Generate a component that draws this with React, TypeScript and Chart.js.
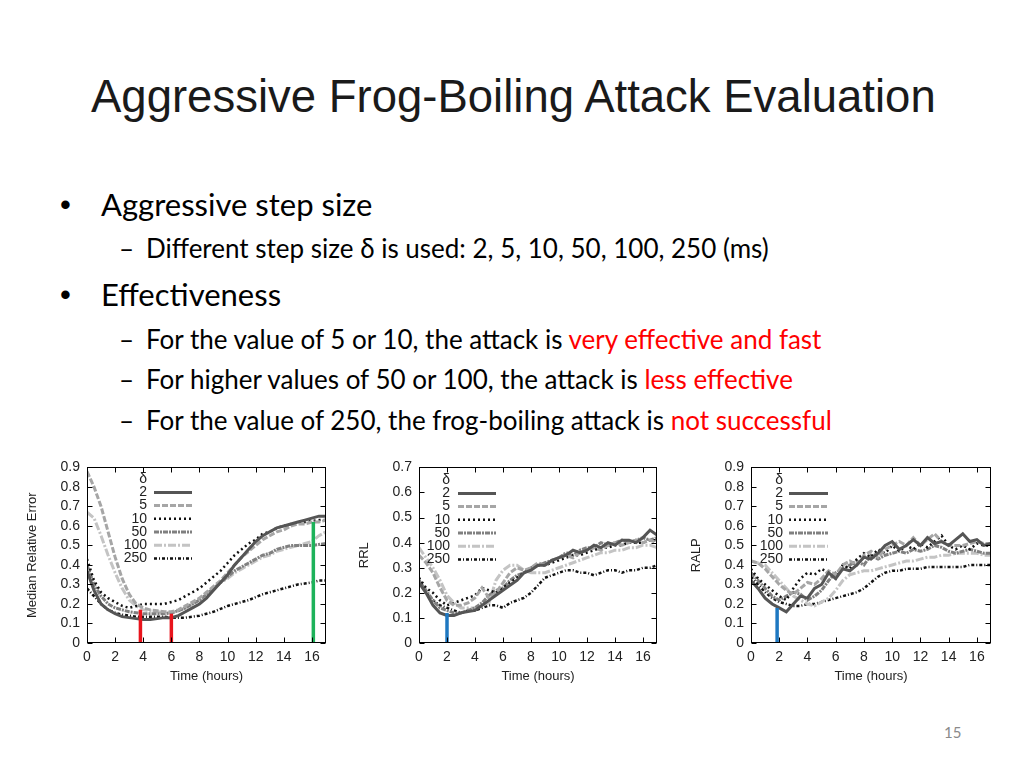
import React, { useEffect, useRef } from "react";
import { Chart, registerables } from "chart.js";

Chart.register(...registerables);

// ---------- data ----------
const hours = [0, 0.5, 1, 1.5, 2, 2.5, 3, 3.5, 4, 4.5, 5, 5.5, 6, 6.5, 7, 7.5, 8, 8.5, 9, 9.5, 10, 10.5, 11, 11.5, 12, 12.5, 13, 13.5, 14, 14.5, 15, 15.5, 16, 16.5, 17];
const stepLabels = ["2", "5", "10", "50", "100", "250"];
const xTickValues = [0, 2, 4, 6, 8, 10, 12, 14, 16];
const mreTicks = [0, 0.1, 0.2, 0.3, 0.4, 0.5, 0.6, 0.7, 0.8, 0.9];
const rrlTicks = [0, 0.1, 0.2, 0.3, 0.4, 0.5, 0.6, 0.7];
const ralpTicks = [0, 0.1, 0.2, 0.3, 0.4, 0.5, 0.6, 0.7, 0.8, 0.9];

// Median Relative Error
const mre2 = [0.37, 0.27, 0.2, 0.17, 0.15, 0.135, 0.13, 0.125, 0.12, 0.12, 0.125, 0.13, 0.13, 0.14, 0.16, 0.18, 0.2, 0.23, 0.27, 0.31, 0.35, 0.4, 0.44, 0.48, 0.52, 0.55, 0.57, 0.59, 0.6, 0.61, 0.62, 0.63, 0.64, 0.65, 0.65];
const mre5 = [0.88, 0.8, 0.7, 0.57, 0.44, 0.33, 0.25, 0.2, 0.18, 0.17, 0.165, 0.16, 0.16, 0.17, 0.19, 0.21, 0.23, 0.26, 0.29, 0.32, 0.36, 0.4, 0.44, 0.47, 0.5, 0.53, 0.55, 0.57, 0.58, 0.6, 0.61, 0.61, 0.62, 0.62, 0.63];
const mre10 = [0.43, 0.32, 0.26, 0.23, 0.21, 0.19, 0.18, 0.19, 0.2, 0.2, 0.2, 0.2, 0.21, 0.22, 0.24, 0.26, 0.28, 0.31, 0.34, 0.37, 0.41, 0.45, 0.48, 0.51, 0.53, 0.56, 0.57, 0.59, 0.6, 0.61, 0.615, 0.62, 0.625, 0.63, 0.63];
const mre50 = [0.4, 0.3, 0.24, 0.2, 0.18, 0.17, 0.16, 0.155, 0.15, 0.15, 0.15, 0.15, 0.155, 0.165, 0.18, 0.2, 0.22, 0.25, 0.28, 0.31, 0.34, 0.37, 0.39, 0.41, 0.43, 0.45, 0.46, 0.48, 0.49, 0.5, 0.5, 0.5, 0.5, 0.505, 0.51];
const mre100 = [0.67, 0.64, 0.55, 0.45, 0.36, 0.28, 0.22, 0.19, 0.17, 0.165, 0.16, 0.155, 0.155, 0.165, 0.18, 0.2, 0.22, 0.25, 0.28, 0.31, 0.33, 0.36, 0.38, 0.4, 0.42, 0.44, 0.45, 0.47, 0.48, 0.49, 0.5, 0.51, 0.52, 0.55, 0.57];
const mre250 = [0.28, 0.24, 0.2, 0.17, 0.155, 0.145, 0.14, 0.135, 0.135, 0.135, 0.135, 0.135, 0.13, 0.13, 0.13, 0.135, 0.14, 0.15, 0.16, 0.175, 0.19, 0.2, 0.21, 0.22, 0.235, 0.25, 0.26, 0.27, 0.28, 0.29, 0.3, 0.305, 0.31, 0.32, 0.32];
const mreMarkX = [3.8, 6.0, 16.1];
const mreMarkTop = [0.17, 0.15, 0.62];

// RRL
const rrl2 = [0.24, 0.2, 0.15, 0.12, 0.11, 0.11, 0.12, 0.125, 0.13, 0.15, 0.17, 0.19, 0.21, 0.23, 0.25, 0.28, 0.29, 0.31, 0.31, 0.33, 0.34, 0.35, 0.37, 0.36, 0.37, 0.39, 0.38, 0.4, 0.39, 0.41, 0.41, 0.4, 0.42, 0.45, 0.43];
const rrl5 = [0.35, 0.32, 0.28, 0.22, 0.17, 0.15, 0.15, 0.16, 0.18, 0.22, 0.18, 0.2, 0.24, 0.28, 0.3, 0.29, 0.3, 0.32, 0.31, 0.33, 0.34, 0.35, 0.34, 0.36, 0.37, 0.38, 0.37, 0.39, 0.4, 0.39, 0.4, 0.41, 0.4, 0.41, 0.4];
const rrl10 = [0.26, 0.22, 0.2, 0.17, 0.15, 0.16, 0.17, 0.18, 0.19, 0.22, 0.21, 0.2, 0.22, 0.24, 0.26, 0.28, 0.3, 0.31, 0.31, 0.32, 0.33, 0.34, 0.35, 0.35, 0.36, 0.37, 0.38, 0.38, 0.39, 0.39, 0.4, 0.4, 0.4, 0.41, 0.41];
const rrl50 = [0.25, 0.21, 0.17, 0.14, 0.13, 0.12, 0.12, 0.13, 0.14, 0.16, 0.19, 0.21, 0.22, 0.25, 0.27, 0.28, 0.3, 0.31, 0.32, 0.33, 0.34, 0.36, 0.35, 0.37, 0.38, 0.38, 0.4, 0.39, 0.4, 0.41, 0.4, 0.41, 0.42, 0.41, 0.42];
const rrl100 = [0.38, 0.34, 0.3, 0.25, 0.19, 0.16, 0.14, 0.14, 0.14, 0.15, 0.16, 0.25, 0.29, 0.31, 0.31, 0.29, 0.28, 0.28, 0.28, 0.29, 0.3, 0.31, 0.32, 0.33, 0.34, 0.35, 0.36, 0.36, 0.37, 0.37, 0.38, 0.38, 0.39, 0.39, 0.38];
const rrl250 = [0.25, 0.2, 0.17, 0.15, 0.14, 0.13, 0.12, 0.13, 0.13, 0.14, 0.15, 0.15, 0.14, 0.16, 0.17, 0.18, 0.2, 0.23, 0.26, 0.27, 0.28, 0.29, 0.29, 0.28, 0.28, 0.27, 0.28, 0.29, 0.29, 0.28, 0.29, 0.29, 0.3, 0.3, 0.31];
const rrlMarkX = [2.0];
const rrlMarkTop = [0.12];

// RALP
const ralp2 = [0.32, 0.28, 0.23, 0.2, 0.18, 0.16, 0.2, 0.24, 0.23, 0.28, 0.3, 0.36, 0.33, 0.38, 0.37, 0.4, 0.44, 0.43, 0.46, 0.5, 0.52, 0.48, 0.5, 0.53, 0.5, 0.54, 0.51, 0.52, 0.5, 0.53, 0.56, 0.52, 0.53, 0.5, 0.51];
const ralp5 = [0.42, 0.41, 0.38, 0.34, 0.3, 0.27, 0.25, 0.28, 0.31, 0.3, 0.33, 0.37, 0.35, 0.4, 0.42, 0.4, 0.45, 0.47, 0.44, 0.48, 0.5, 0.52, 0.5, 0.54, 0.5, 0.53, 0.56, 0.52, 0.5, 0.5, 0.5, 0.51, 0.52, 0.51, 0.51];
const ralp10 = [0.38, 0.33, 0.3, 0.27, 0.24, 0.22, 0.28, 0.33, 0.36, 0.35, 0.38, 0.36, 0.33, 0.4, 0.38, 0.43, 0.46, 0.44, 0.48, 0.46, 0.5, 0.47, 0.5, 0.48, 0.51, 0.49, 0.52, 0.55, 0.5, 0.48, 0.5, 0.48, 0.51, 0.5, 0.5];
const ralp50 = [0.36, 0.32, 0.28, 0.24, 0.22, 0.24, 0.26, 0.25, 0.22, 0.24, 0.27, 0.32, 0.36, 0.38, 0.4, 0.42, 0.4, 0.45, 0.43, 0.45, 0.46, 0.47, 0.46, 0.48, 0.47, 0.48, 0.5, 0.49, 0.47, 0.46, 0.47, 0.48, 0.47, 0.46, 0.46];
const ralp100 = [0.42, 0.41, 0.4, 0.36, 0.32, 0.28, 0.24, 0.22, 0.2, 0.19, 0.21, 0.23, 0.27, 0.32, 0.35, 0.36, 0.37, 0.37, 0.38, 0.39, 0.4, 0.41, 0.42, 0.42, 0.43, 0.44, 0.44, 0.45, 0.45, 0.46, 0.46, 0.46, 0.46, 0.45, 0.45];
const ralp250 = [0.34, 0.3, 0.26, 0.23, 0.21, 0.2, 0.19, 0.19, 0.2, 0.2, 0.21, 0.22, 0.23, 0.24, 0.25, 0.26, 0.28, 0.31, 0.34, 0.36, 0.37, 0.37, 0.38, 0.38, 0.38, 0.39, 0.39, 0.39, 0.39, 0.39, 0.39, 0.4, 0.4, 0.4, 0.4];
const ralpMarkX = [1.85];
const ralpMarkTop = [0.18];

// ---------- styles ----------
const seriesStyles = [
  { color: "#555555", width: 3, dash: [] as number[] },
  { color: "#a6a6a6", width: 3, dash: [6, 2] },
  { color: "#111111", width: 2.5, dash: [2, 3] },
  { color: "#808080", width: 3, dash: [5, 1, 2, 1] },
  { color: "#c4c4c4", width: 3, dash: [8, 2, 2, 2] },
  { color: "#111111", width: 2.5, dash: [3, 2, 1, 2] },
];
const RED = "#e8141c";
const GREEN = "#1db25a";
const BLUE = "#1f78c1";
const FONT = '"Liberation Sans", Arial, sans-serif';
const tickFont = { family: FONT, size: 14 };
const titleFont = { family: FONT, size: 13 };
const inkColor = "#222222";

const frameTicks = {
  id: "frameTicks",
  afterDraw(chart: any) {
    const { ctx, chartArea } = chart;
    const { left, right, top, bottom } = chartArea;
    const xs = chart.scales.x;
    const ys = chart.scales.y;
    ctx.save();
    ctx.setLineDash([]);
    ctx.strokeStyle = "#000";
    ctx.lineWidth = 1;
    const L = Math.round(left) + 0.5, R = Math.round(right) - 0.5;
    const T = Math.round(top) + 0.5, B = Math.round(bottom) - 0.5;
    ctx.strokeRect(L, T, R - L, B - T);
    ctx.beginPath();
    xs.ticks.forEach((t: any) => {
      const px = Math.round(xs.getPixelForValue(t.value)) + 0.5;
      ctx.moveTo(px, B); ctx.lineTo(px, B - 5);
      ctx.moveTo(px, T); ctx.lineTo(px, T + 5);
    });
    ys.ticks.forEach((t: any) => {
      const py = Math.round(ys.getPixelForValue(t.value)) + 0.5;
      ctx.moveTo(L, py); ctx.lineTo(L + 5, py);
      ctx.moveTo(R, py); ctx.lineTo(R - 5, py);
    });
    ctx.stroke();
    ctx.restore();
  },
};

const innerLegend = {
  id: "innerLegend",
  afterDatasetsDraw(chart: any, _args: any, opts: any) {
    const { ctx, chartArea } = chart;
    const xr = chartArea.left + opts.labelRight;
    const s0 = chartArea.left + opts.sampleStart;
    const s1 = chartArea.left + opts.sampleEnd;
    let y = chartArea.top + opts.firstRow;
    ctx.save();
    ctx.font = `14px ${FONT}`;
    ctx.fillStyle = inkColor;
    ctx.textAlign = "right";
    ctx.textBaseline = "middle";
    ctx.fillText("δ", xr, y - opts.rowGap);
    chart.data.datasets.forEach((ds: any) => {
      if (ds.isMarker) return;
      ctx.fillStyle = inkColor;
      ctx.fillText(ds.label, xr, y);
      ctx.beginPath();
      ctx.setLineDash(ds.borderDash || []);
      ctx.lineWidth = ds.borderWidth;
      ctx.strokeStyle = ds.borderColor;
      ctx.moveTo(s0, y);
      ctx.lineTo(s1, y);
      ctx.stroke();
      y += opts.rowGap;
    });
    ctx.restore();
  },
};

type Panel = {
  left: number; top: number; w: number; h: number;
  yAxisW: number; padRight: number; padTop: number; xAxisH: number;
  yTitle: string; yTitlePad: number; yMax: number; yTicks: number[];
  series: number[][]; markX: number[]; markTop: number[]; markColors: string[];
  legend: { labelRight: number; sampleStart: number; sampleEnd: number; firstRow: number; rowGap: number };
};

function buildConfig(p: Panel): any {
  const markers = p.markX.map((mx, i) => ({
    label: "",
    isMarker: true,
    data: [{ x: mx, y: 0 }, { x: mx, y: p.markTop[i] }],
    borderColor: p.markColors[i],
    borderWidth: 3.5,
    pointRadius: 0,
    order: -1,
  }));
  const lines = p.series.map((vals, i) => ({
    label: stepLabels[i],
    data: hours.map((h, j) => ({ x: h, y: vals[j] })),
    borderColor: seriesStyles[i].color,
    borderWidth: seriesStyles[i].width,
    borderDash: seriesStyles[i].dash,
    pointRadius: 0,
    tension: 0,
    fill: false,
    order: i,
  }));
  return {
    type: "line",
    data: { datasets: [...markers, ...lines] },
    plugins: [frameTicks, innerLegend],
    options: {
      responsive: false,
      animation: false,
      devicePixelRatio: 1,
      layout: { padding: { top: p.padTop, right: p.padRight, bottom: 0, left: 0 } },
      plugins: {
        legend: { display: false },
        tooltip: { enabled: false },
        innerLegend: p.legend,
      },
      scales: {
        x: {
          type: "linear",
          min: 0,
          max: 17,
          afterBuildTicks: (s: any) => { s.ticks = xTickValues.map((v) => ({ value: v })); },
          afterFit: (s: any) => { s.height = p.xAxisH; },
          grid: { display: false, drawTicks: false },
          border: { display: false },
          ticks: { padding: 6, font: tickFont, color: inkColor, maxRotation: 0, autoSkip: false, callback: (v: any) => String(v) },
          title: { display: true, text: "Time (hours)", font: titleFont, color: inkColor, padding: { top: 0, bottom: 8 } },
        },
        y: {
          type: "linear",
          min: 0,
          max: p.yMax,
          afterBuildTicks: (s: any) => { s.ticks = p.yTicks.map((v) => ({ value: v })); },
          afterFit: (s: any) => { s.width = p.yAxisW; },
          grid: { display: false, drawTicks: false },
          border: { display: false },
          ticks: { padding: 7, font: tickFont, color: inkColor, autoSkip: false, callback: (v: any) => (Number(v) === 0 ? "0" : Number(v).toFixed(1)) },
          title: { display: true, text: p.yTitle, font: titleFont, color: inkColor, padding: { top: p.yTitlePad, bottom: 0 } },
        },
      },
    },
  };
}

function PanelChart({ p }: { p: Panel }) {
  const ref = useRef<HTMLCanvasElement>(null);
  useEffect(() => {
    const chart = new Chart(ref.current as HTMLCanvasElement, buildConfig(p));
    return () => chart.destroy();
  }, []);
  return (
    <canvas
      ref={ref}
      width={p.w}
      height={p.h}
      style={{ position: "absolute", left: p.left, top: p.top, width: p.w, height: p.h }}
    />
  );
}

const panels: Panel[] = [
  {
    left: 20, top: 452, w: 315, h: 240, yAxisW: 67, padRight: 9, padTop: 11, xAxisH: 49,
    yTitle: "Median Relative Error", yTitlePad: 5, yMax: 0.9, yTicks: mreTicks,
    series: [mre2, mre5, mre10, mre50, mre100, mre250], markX: mreMarkX, markTop: mreMarkTop, markColors: [RED, RED, GREEN],
    legend: { labelRight: 60, sampleStart: 67, sampleEnd: 105, firstRow: 25, rowGap: 13.2 },
  },
  {
    left: 350, top: 452, w: 315, h: 240, yAxisW: 69, padRight: 8, padTop: 11, xAxisH: 49,
    yTitle: "RRL", yTitlePad: 7, yMax: 0.7, yTicks: rrlTicks,
    series: [rrl2, rrl5, rrl10, rrl50, rrl100, rrl250], markX: rrlMarkX, markTop: rrlMarkTop, markColors: [BLUE],
    legend: { labelRight: 31, sampleStart: 39, sampleEnd: 77, firstRow: 26, rowGap: 13.2 },
  },
  {
    left: 685, top: 452, w: 315, h: 240, yAxisW: 66, padRight: 9, padTop: 11, xAxisH: 49,
    yTitle: "RALP", yTitlePad: 4, yMax: 0.9, yTicks: ralpTicks,
    series: [ralp2, ralp5, ralp10, ralp50, ralp100, ralp250], markX: ralpMarkX, markTop: ralpMarkTop, markColors: [BLUE],
    legend: { labelRight: 32, sampleStart: 38, sampleEnd: 77, firstRow: 26, rowGap: 13.2 },
  },
];

const BODY = 'Lato, "Open Sans", sans-serif';
const red = "#ff0000";

const abs = (left: number, top: number, size: number, extra: React.CSSProperties = {}): React.CSSProperties => ({
  position: "absolute",
  left,
  top,
  fontSize: size,
  lineHeight: `${Math.round(size * 1.2)}px`,
  whiteSpace: "nowrap",
  color: "#000",
  fontFamily: BODY,
  ...extra,
});

export default function App() {
  return (
    <div style={{ position: "absolute", left: 0, top: 0, width: 1024, height: 768, background: "#fff", overflow: "hidden" }}>
      <div style={abs(91, 74, 45.5, { fontFamily: FONT, lineHeight: "45px", color: "#1a1a1a" })}>
        Aggressive Frog-Boiling Attack Evaluation
      </div>

      <div style={abs(60, 186, 31, { fontFamily: FONT })}>•</div>
      <div style={abs(101, 186, 31)}>Aggressive step size</div>
      <div style={abs(119, 233, 26)}>–</div>
      <div style={abs(146, 233, 26)}>Different step size δ is used: 2, 5, 10, 50, 100, 250 (ms)</div>

      <div style={abs(60, 276, 31, { fontFamily: FONT })}>•</div>
      <div style={abs(101, 276, 31)}>Effectiveness</div>
      <div style={abs(119, 324, 26)}>–</div>
      <div style={abs(146, 324, 26)}>
        For the value of 5 or 10, the attack is <span style={{ color: red }}>very effective and fast</span>
      </div>
      <div style={abs(119, 364, 26)}>–</div>
      <div style={abs(146, 364, 26)}>
        For higher values of 50 or 100, the attack is <span style={{ color: red }}>less effective</span>
      </div>
      <div style={abs(119, 405, 26)}>–</div>
      <div style={abs(146, 405, 26)}>
        For the value of 250, the frog-boiling attack is <span style={{ color: red }}>not successful</span>
      </div>

      {panels.map((p, i) => (
        <PanelChart key={i} p={p} />
      ))}

      <div style={abs(944, 723, 15, { color: "#8a8a8a" })}>15</div>
    </div>
  );
}
